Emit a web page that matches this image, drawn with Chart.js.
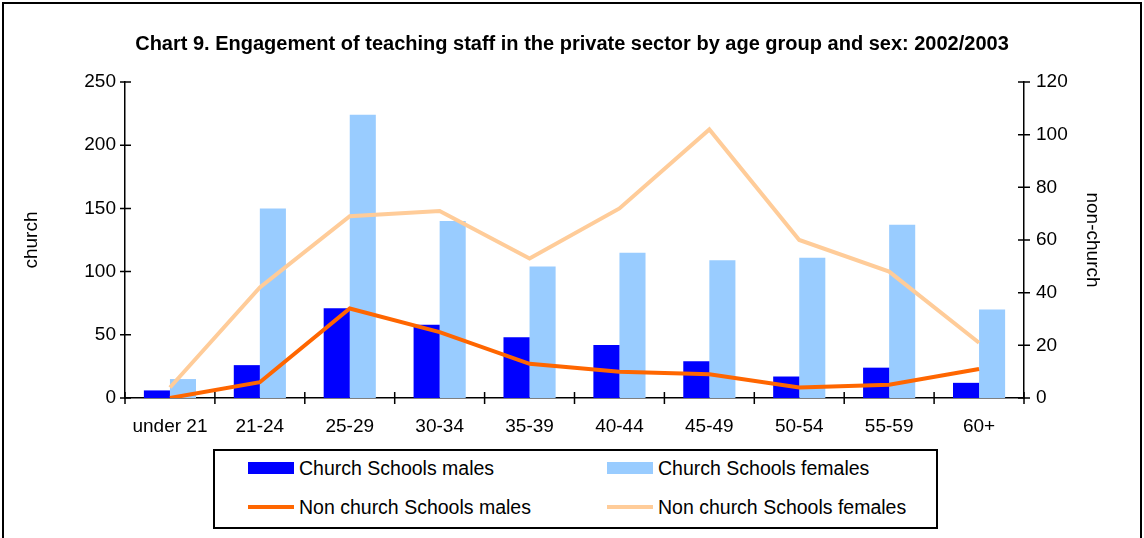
<!DOCTYPE html>
<html>
<head>
<meta charset="utf-8">
<script src="https://cdn.jsdelivr.net/npm/chart.js@4.4.1/dist/chart.umd.min.js"></script>
<style>
  html, body { margin: 0; padding: 0; background: #fff; }
  #wrap { position: relative; width: 1144px; height: 538px; overflow: hidden; font-family: "Liberation Sans", Arial, sans-serif; }
  #frame { position: absolute; left: 2px; top: 2px; width: 1136px; height: 560px; border: 2px solid #000; }
  #legend { position: absolute; left: 213px; top: 449px; width: 721px; height: 76px; border: 2px solid #000; background: #fff; }
  .item { position: absolute; display: flex; align-items: center; font-size: 19.5px; color: #000; white-space: nowrap; }
  .sw { display: inline-block; width: 46px; margin-right: 5px; }
</style>
</head>
<body>
<div id="wrap">
  <canvas id="chart" width="1144" height="538"></canvas>
  <div id="frame"></div>
  <div id="legend"></div>
</div>
<script>
const categories = ['under 21', '21-24', '25-29', '30-34', '35-39', '40-44', '45-49', '50-54', '55-59', '60+'];
const churchMales = [6, 26, 71, 58, 48, 42, 29, 17, 24, 12];
const churchFemales = [15, 150, 224, 140, 104, 115, 109, 111, 137, 70];
const nonChurchMales = [0, 6, 34, 25, 13, 10, 9, 4, 5, 11];
const nonChurchFemales = [4, 42, 69, 71, 53, 72, 102, 60, 48, 21];
const leftTicks = [0, 50, 100, 150, 200, 250];
const rightTicks = [0, 20, 40, 60, 80, 100, 120];

Chart.defaults.font.family = '"Liberation Sans", Arial, sans-serif';
Chart.defaults.font.size = 19;
Chart.defaults.color = '#000';

// tick marks that cross the axis lines, like the original
const crossTicks = {
    id: 'crossTicks',
    afterDraw(chart) {
        const ctx = chart.ctx;
        const area = chart.chartArea;
        const y = chart.scales.y;
        const y1 = chart.scales.y1;
        ctx.save();
        ctx.strokeStyle = '#000';
        ctx.lineWidth = 1.5;
        ctx.beginPath();
        leftTicks.forEach(function(v) {
            const p = y.getPixelForValue(v);
            ctx.moveTo(area.left - 5, p);
            ctx.lineTo(area.left + 6, p);
        });
        rightTicks.forEach(function(v) {
            const p = y1.getPixelForValue(v);
            ctx.moveTo(area.right - 6, p);
            ctx.lineTo(area.right + 6, p);
        });
        const step = (area.right - area.left) / categories.length;
        for (let i = 0; i <= categories.length; i++) {
            const px = area.left + i * step;
            ctx.moveTo(px, area.bottom - 6);
            ctx.lineTo(px, area.bottom + 6);
        }
        ctx.stroke();
        ctx.restore();
    }
};

const ctx = document.getElementById('chart').getContext('2d');
new Chart(ctx, {
    type: 'bar',
    data: {
        labels: categories,
        datasets: [
            {
                type: 'line',
                label: 'Non church Schools males',
                data: nonChurchMales,
                yAxisID: 'y1',
                borderColor: '#FF6600',
                backgroundColor: '#FF6600',
                borderWidth: 4,
                pointRadius: 0,
                tension: 0,
                order: 0
            },
            {
                type: 'line',
                label: 'Non church Schools females',
                data: nonChurchFemales,
                yAxisID: 'y1',
                borderColor: '#FFCC99',
                backgroundColor: '#FFCC99',
                borderWidth: 4,
                pointRadius: 0,
                tension: 0,
                order: 0
            },
            {
                label: 'Church Schools males',
                data: churchMales,
                yAxisID: 'y',
                backgroundColor: '#0000FF',
                categoryPercentage: 0.58,
                barPercentage: 1,
                order: 1
            },
            {
                label: 'Church Schools females',
                data: churchFemales,
                yAxisID: 'y',
                backgroundColor: '#99CCFF',
                categoryPercentage: 0.58,
                barPercentage: 1,
                order: 1
            }
        ]
    },
    options: {
        responsive: false,
        animation: false,
        layout: { padding: 0 },
        plugins: {
            legend: { display: false },
            tooltip: { enabled: false },
            title: {
                display: true,
                text: 'Chart 9. Engagement of teaching staff in the private sector by age group and sex: 2002/2003',
                font: { size: 20, weight: 'bold' },
                color: '#000',
                padding: { top: 32, bottom: 26 }
            }
        },
        scales: {
            x: {
                grid: { display: false, drawTicks: false },
                border: { display: true, color: '#000', width: 1.5 },
                ticks: { padding: 17, maxRotation: 0, autoSkip: false },
                afterFit: function(scale) { scale.height = 140; }
            },
            y: {
                position: 'left',
                min: 0,
                max: 250,
                afterBuildTicks: function(scale) { scale.ticks = leftTicks.map(function(v) { return { value: v }; }); },
                grid: { display: false, drawTicks: false },
                border: { display: true, color: '#000', width: 1.5 },
                ticks: { padding: 9 },
                title: { display: true, text: 'church', padding: { top: 20, bottom: 0 } },
                afterFit: function(scale) { scale.width = 125; }
            },
            y1: {
                position: 'right',
                min: 0,
                max: 120,
                afterBuildTicks: function(scale) { scale.ticks = rightTicks.map(function(v) { return { value: v }; }); },
                grid: { display: false, drawTicks: false },
                border: { display: true, color: '#000', width: 1.5 },
                ticks: { padding: 12 },
                title: { display: true, text: 'non-church', padding: { top: 40, bottom: 0 } },
                afterFit: function(scale) { scale.width = 120; }
            }
        }
    },
    plugins: [crossTicks]
});

// legend drawn as a boxed two-column block under the plot
const legendItems = [
    { text: 'Church Schools males', color: '#0000FF', kind: 'bar', x: 33, y: 17 },
    { text: 'Church Schools females', color: '#99CCFF', kind: 'bar', x: 392, y: 17 },
    { text: 'Non church Schools males', color: '#FF6600', kind: 'line', x: 33, y: 56 },
    { text: 'Non church Schools females', color: '#FFCC99', kind: 'line', x: 392, y: 56 }
];
const legend = document.getElementById('legend');
legendItems.forEach(function(it) {
    const el = document.createElement('div');
    el.className = 'item';
    el.style.left = it.x + 'px';
    el.style.top = (it.y - 12) + 'px';
    el.style.height = '24px';
    const sw = document.createElement('span');
    sw.className = 'sw';
    sw.style.background = it.color;
    sw.style.height = it.kind === 'bar' ? '12px' : '4px';
    el.appendChild(sw);
    const t = document.createElement('span');
    t.textContent = it.text;
    el.appendChild(t);
    legend.appendChild(el);
});
</script>
</body>
</html>
